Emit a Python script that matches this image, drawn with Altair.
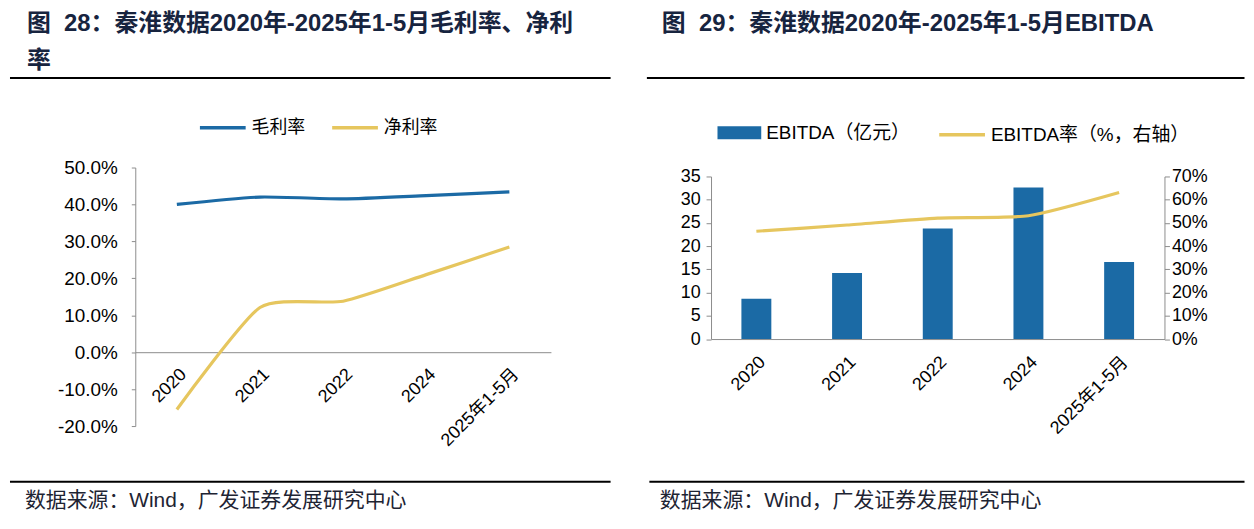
import altair as alt
import pandas as pd

# ---------------- data ----------------
categories = ["2020", "2021", "2022", "2024", "2025年1-5月"]
gross_margin = [40.0, 42.0, 41.5, 42.4, 43.4]      # 毛利率 %
net_margin = [-15.5, 12.1, 13.8, 21.0, 28.5]       # 净利率 %
ebitda = [8.7, 14.2, 23.8, 32.6, 16.6]             # EBITDA 亿元
ebitda_rate = [46.4, 49.1, 52.1, 53.1, 63.1]       # EBITDA率 %

series_names = ["毛利率", "净利率"]
bar_name = "EBITDA（亿元）"
rate_name = "EBITDA率（%，右轴）"
left_y_ticks = [-0.2, -0.1, 0.0, 0.1, 0.2, 0.3, 0.4, 0.5]
right_y1_ticks = [0, 5, 10, 15, 20, 25, 30, 35]
right_y2_ticks = [0.0, 0.1, 0.2, 0.3, 0.4, 0.5, 0.6, 0.7]
NB = "\u00a0"
title_left_1 = "图" + NB * 2 + "28：秦淮数据2020年-2025年1-5月毛利率、净利"
title_left_2 = "率"
title_right = "图" + NB * 2 + "29：秦淮数据2020年-2025年1-5月EBITDA"
source_text = "数据来源：Wind，广发证券发展研究中心"

# ---------------- styles ----------------
BLUE = "#1B6AA5"
GOLD = "#E6C65E"
NAVY = "#17243F"
AXIS_GRAY = "#8C8C8C"
LAT = "'Liberation Sans', 'Noto Sans CJK SC', sans-serif"
CJK = "'Noto Sans CJK SC', sans-serif"
FS = 18

margin_df = pd.DataFrame({
    "cat": categories * 2,
    "series": [series_names[0]] * len(categories) + [series_names[1]] * len(categories),
    "value": [v / 100 for v in gross_margin + net_margin],
})
ebitda_df = pd.DataFrame({
    "cat": categories,
    "ebitda": ebitda,
    "rate": [v / 100 for v in ebitda_rate],
    "bar_label": [bar_name] * len(categories),
    "rate_label": [rate_name] * len(categories),
})
one = pd.DataFrame({"k": [0]})


def text_layer(txt, x, y, size, weight="normal", color="black", font=LAT):
    return alt.Chart(one).mark_text(
        text=txt, align="left", baseline="alphabetic", font=font, fontSize=size,
        fontWeight=weight, color=color).encode(x=alt.value(x), y=alt.value(y))


def decorations(x0, x1, titles, title_x, src_x, bot_rule_x0):
    # all y positions relative to a plot top placed at page y = 166
    white = alt.Chart(one).mark_rule(color="white", strokeWidth=1).encode(
        x=alt.value(x0), x2=alt.value(x0 + 5), y=alt.value(-158))
    ttl = [text_layer(t, title_x, -137 + 37 * i, 24, "bold", NAVY)
           for i, t in enumerate(titles)]
    r1 = alt.Chart(one).mark_rule(color="black", strokeWidth=2.2).encode(
        x=alt.value(x0), x2=alt.value(x1), y=alt.value(-90))
    r2 = alt.Chart(one).mark_rule(color="black", strokeWidth=2.2).encode(
        x=alt.value(bot_rule_x0), x2=alt.value(x1), y=alt.value(316))
    src = text_layer(source_text, src_x, 341, 21, color="#1E2433")
    return [white, *ttl, r1, r2, src]


# ---------------- left panel ----------------
LW, LH = 418, 260
zero_offset = -(LH - LH * 0.5 / 0.7)

lines = alt.Chart(margin_df).mark_line(strokeWidth=3.2, interpolate="cardinal", tension=0.4).encode(
    x=alt.X("cat:N", sort=categories, scale=alt.Scale(padding=0.5),
            axis=alt.Axis(title=None, labelAngle=-45, ticks=False, domainColor=AXIS_GRAY,
                          labelPadding=13, offset=zero_offset, labelFont=LAT,
                          labelFontSize=FS, labelColor="black")),
    y=alt.Y("value:Q", scale=alt.Scale(domain=[-0.2, 0.5], nice=False, zero=False),
            axis=alt.Axis(title=None, values=left_y_ticks, grid=False,
                          labelExpr="replace(format(datum.value, '.1%'), '\u2212', '-')",
                          domainColor=AXIS_GRAY, tickColor=AXIS_GRAY, tickSize=4,
                          labelPadding=14, labelFont=LAT, labelFontSize=19,
                          labelColor="black")),
    color=alt.Color("series:N", sort=series_names,
                    scale=alt.Scale(domain=series_names, range=[BLUE, GOLD]),
                    legend=alt.Legend(orient="none", legendX=63, legendY=-65,
                                      direction="horizontal", title=None,
                                      symbolType="stroke", symbolSize=2116,
                                      symbolStrokeWidth=3.5, labelFont=CJK,
                                      labelFontSize=FS, labelColor="black",
                                      labelOffset=4, columnPadding=20)),
)

left = alt.layer(
    lines,
    *decorations(x0=-126, x1=478, titles=[title_left_1, title_left_2],
                 title_x=-109, src_x=-111, bot_rule_x0=-126),
).properties(width=LW, height=LH)

# ---------------- right panel ----------------
# plot top shares page y = 166 with the left panel; value axes span 175..338.5
RW, RH = 456, 172.5
Y_RANGE = [RH, 9]
x_right = alt.X("cat:N", sort=categories,
                scale=alt.Scale(paddingInner=0.67, paddingOuter=0.335),
                axis=alt.Axis(title=None, labelAngle=-45, ticks=False, domainColor=AXIS_GRAY,
                              labelPadding=14, labelFont=LAT, labelFontSize=FS,
                              labelColor="black"))

bars = alt.Chart(ebitda_df).mark_bar().encode(
    x=x_right,
    y=alt.Y("ebitda:Q", scale=alt.Scale(domain=[0, 35], nice=False, range=Y_RANGE),
            axis=alt.Axis(title=None, orient="left", values=right_y1_ticks, grid=False,
                          domainColor=AXIS_GRAY, tickColor=AXIS_GRAY, tickSize=5,
                          labelPadding=6, labelFont=LAT, labelFontSize=FS,
                          labelColor="black")),
    fill=alt.Fill("bar_label:N", scale=alt.Scale(domain=[bar_name], range=[BLUE]),
                  legend=alt.Legend(orient="none", legendX=6.5, legendY=-57, title=None,
                                    symbolType="M-1,-0.3H1V0.3H-1Z", symbolSize=1936,
                                    symbolStrokeWidth=0, labelFont=LAT, labelFontSize=19,
                                    labelColor="black", labelOffset=5, labelLimit=400)),
)

rate_line = alt.Chart(ebitda_df).mark_line(strokeWidth=3.2, interpolate="cardinal", tension=0.4).encode(
    x=x_right,
    y=alt.Y("rate:Q", scale=alt.Scale(domain=[0, 0.7], nice=False, range=Y_RANGE),
            axis=alt.Axis(title=None, orient="right", values=right_y2_ticks, format=".0%",
                          grid=False, domainColor=AXIS_GRAY, tickColor=AXIS_GRAY,
                          tickSize=5, labelPadding=2, labelFont=LAT, labelFontSize=FS,
                          labelColor="black")),
    stroke=alt.Stroke("rate_label:N", scale=alt.Scale(domain=[rate_name], range=[GOLD]),
                      legend=alt.Legend(orient="none", legendX=227.5, legendY=-58, title=None,
                                        symbolType="stroke", symbolSize=2116,
                                        symbolStrokeWidth=3.5, labelFont=LAT,
                                        labelFontSize=19, labelColor="black",
                                        labelOffset=4, labelLimit=400)),
)

right = alt.layer(
    bars, rate_line,
    *decorations(x0=-64.5, x1=536.5, titles=[title_right], title_x=-49.5,
                 src_x=-51.5, bot_rule_x0=-62),
).resolve_scale(y="independent", fill="independent", stroke="independent"
).properties(width=RW, height=RH)

chart = alt.hconcat(left, right, spacing=33).properties(padding=0).configure_view(strokeWidth=0)

chart.save("out.html", embed_options={"renderer": "svg", "actions": False})
